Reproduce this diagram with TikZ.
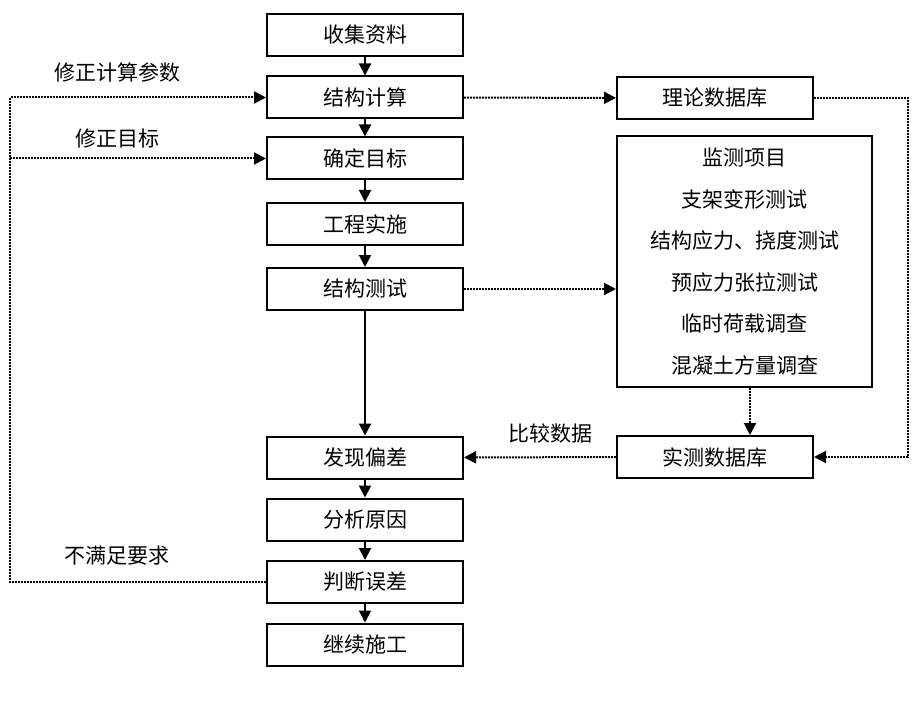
\documentclass[tikz,border=0pt]{standalone}
\usepackage{fontspec}
\setmainfont{Noto Sans CJK SC}
\usetikzlibrary{arrows.meta}
\begin{document}
\begin{tikzpicture}[
    x=1pt, y=-1pt,
    stepbox/.style={draw, line width=2pt, minimum width=196pt, minimum height=42pt, inner sep=0pt, font=\fontsize{21}{24}\selectfont},
    listbox/.style={draw, line width=2pt, minimum width=255pt, minimum height=251pt, align=center, font=\fontsize{21}{41.5}\selectfont},
    note/.style={font=\fontsize{21}{24}\selectfont},
    flow/.style={densely dotted, line width=2pt},
    >={Triangle[length=12pt,width=12pt]}
]
\useasboundingbox (0,0) rectangle (917,711);
% Main steps
\node[stepbox] (s1) at (365,35) {收集资料};
\node[stepbox] (s2) at (365,97.5) {结构计算};
\node[stepbox] (s3) at (365,158.5) {确定目标};
\node[stepbox] (s4) at (365,224) {工程实施};
\node[stepbox] (s5) at (365,289) {结构测试};
\node[stepbox] (s6) at (365,457.5) {发现偏差};
\node[stepbox] (s7) at (365,519.5) {分析原因};
\node[stepbox] (s8) at (365,582) {判断误差};
\node[stepbox] (s9) at (365,644.5) {继续施工};

% Databases and monitoring items
\node[stepbox] (db1) at (715,98) {理论数据库};
\node[listbox] (mon) at (744.5,261.5) {监测项目\\支架变形测试\\结构应力、挠度测试\\预应力张拉测试\\临时荷载调查\\混凝土方量调查};
\node[stepbox] (db2) at (715,457) {实测数据库};

% Main flow
\foreach \i/\j in {1/2,2/3,3/4,4/5,5/6,6/7,7/8,8/9} {
    \draw[->, line width=2pt] (s\i) -- (s\j);
}

% Data flow
\draw[flow, ->] (s2) -- (db1);
\draw[flow, ->] (s5.east) -- (s5.east -| mon.west);
\draw[flow, ->] (mon.south -| db2) ++(35,0) coordinate (mb) -- (mb |- db2.north);
\coordinate (rt) at (908,98);
\draw[flow, ->] (db1.east) -- (rt) |- (db2.east);
\draw[flow, ->] (db2) -- (s6);

% Feedback loop
\coordinate (lt) at (10,97.5);
\draw[flow, ->] (s8.west) -| (lt) -- (s2.west);
\draw[flow, ->] (lt |- s3.west) -- (s3.west);

% Labels
\node[note] (n1) at (117,73) {修正计算参数};
\node[note] (n2) at (117,139) {修正目标};
\node[note] (n3) at (117,556) {不满足要求};
\node[note] (n4) at (550,433) {比较数据};
\end{tikzpicture}
\end{document}
